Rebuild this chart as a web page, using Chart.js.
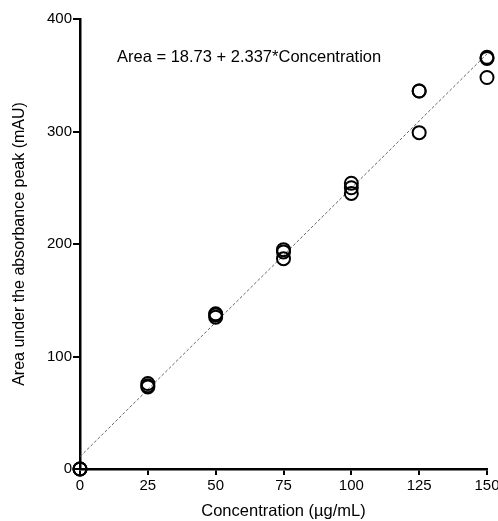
<!DOCTYPE html>
<html>
<head>
<meta charset="utf-8">
<script src="https://cdn.jsdelivr.net/npm/chart.js@4"></script>
<style>
  html, body { margin: 0; padding: 0; background: #fff; }
  #wrap { width: 498px; height: 521px; }
</style>
</head>
<body>
<div id="wrap"><canvas id="calChart" width="498" height="521"></canvas></div>
<script>
// concentration (ug/mL) and measured areas (mAU)
const concentration = [0, 0, 0, 25, 25, 25, 50, 50, 50, 75, 75, 75, 100, 100, 100, 125, 125, 125, 150, 150, 150];
const area = [0, 0, 0, 76, 73, 74, 138, 135, 137, 195, 187, 193, 254, 245, 250, 336, 299, 336, 365, 348, 366];
// fitted line endpoints
const fitX = [0, 150];
const fitY = [11, 369];
const xTicks = [0, 25, 50, 75, 100, 125, 150];
const yTicks = [0, 100, 200, 300, 400];
const equationText = 'Area = 18.73 + 2.337*Concentration';

const points = [];
for (var i = 0; i < concentration.length; i++) {
  points.push({ x: concentration[i], y: area[i] });
}
const fitLine = [];
for (var j = 0; j < fitX.length; j++) {
  fitLine.push({ x: fitX[j], y: fitY[j] });
}

const FONT = '"Liberation Sans", Arial, sans-serif';

const equationPlugin = {
  id: 'equation',
  afterDatasetsDraw(chart) {
    const ctx = chart.ctx;
    const a = chart.chartArea;
    ctx.save();
    ctx.font = '16.5px ' + FONT;
    ctx.fillStyle = '#000';
    ctx.textBaseline = 'middle';
    ctx.fillText(equationText, a.left + 37, a.top + 38);
    ctx.restore();
  }
};

const ctx = document.getElementById('calChart').getContext('2d');
const calChart = new Chart(ctx, {
  type: 'scatter',
  data: {
    datasets: [{
      type: 'line',
      data: fitLine,
      borderColor: '#666',
      borderWidth: 1,
      borderDash: [3, 2],
      pointRadius: 0,
      fill: false,
      order: 2
    }, {
      data: points,
      pointRadius: 6.5,
      pointBorderWidth: 2,
      pointBorderColor: '#000',
      pointBackgroundColor: 'rgba(255,255,255,0)',
      clip: false,
      order: 1
    }]
  },
  options: {
    responsive: false,
    animation: { duration: 0 },
    layout: { padding: { top: 19, right: 11, left: 0, bottom: 0 } },
    plugins: {
      legend: { display: false },
      tooltip: { enabled: false }
    },
    scales: {
      x: {
        type: 'linear',
        min: 0,
        max: 150,
        afterBuildTicks(scale) { scale.ticks = xTicks.map(v => ({ value: v })); },
        afterFit(scale) {
          scale.height = 52;
          scale.paddingRight = 0;
          scale.paddingLeft = 0;
        },
        border: { display: true, color: '#000', width: 2.5 },
        grid: { drawOnChartArea: false, drawTicks: true, tickLength: 6, color: '#000', lineWidth: 2 },
        ticks: {
          color: '#000',
          padding: 2,
          font: { family: FONT, size: 15 }
        },
        title: {
          display: true,
          text: 'Concentration (\u00b5g/mL)',
          color: '#000',
          padding: { top: 0, bottom: 0 },
          font: { family: FONT, size: 16.5 }
        }
      },
      y: {
        type: 'linear',
        min: 0,
        max: 400,
        afterBuildTicks(scale) { scale.ticks = yTicks.map(v => ({ value: v })); },
        afterFit(scale) { scale.width = 80; },
        border: { display: true, color: '#000', width: 2.5 },
        grid: { drawOnChartArea: false, drawTicks: true, tickLength: 7, color: '#000', lineWidth: 2 },
        ticks: {
          color: '#000',
          padding: 1,
          font: { family: FONT, size: 15 }
        },
        title: {
          display: true,
          text: 'Area under the absorbance peak (mAU)',
          color: '#000',
          padding: { top: 10, bottom: 0 },
          font: { family: FONT, size: 16 }
        }
      }
    }
  },
  plugins: [equationPlugin]
});
</script>
</body>
</html>
